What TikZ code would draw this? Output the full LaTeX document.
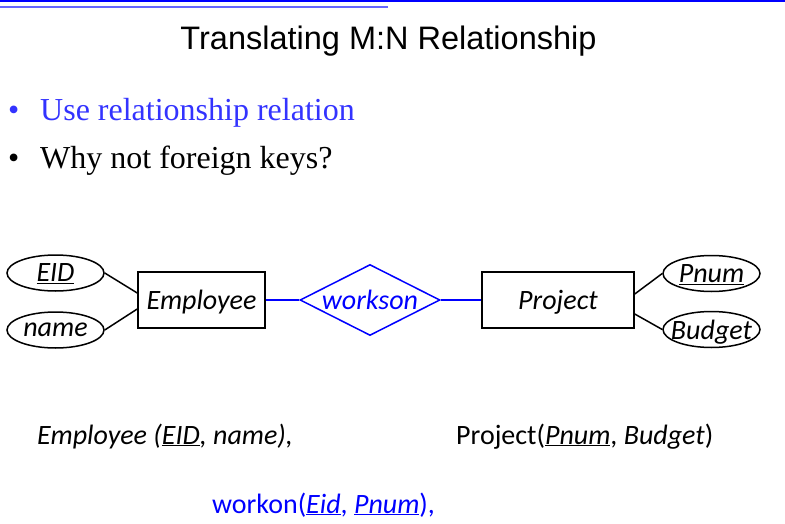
\documentclass[tikz,border=0pt]{standalone}
\usepackage{fontspec}
\setmainfont{Carlito}
\newfontfamily\titlefont{Liberation Sans}
\newfontfamily\bulletfont{Liberation Serif}
\usetikzlibrary{shapes.geometric}
\definecolor{blue}{rgb}{0.0, 0.0, 1.0}
\definecolor{lightblue}{rgb}{0.4, 0.4, 1.0}
\definecolor{bulletblue}{rgb}{0.2, 0.2, 1.0}
\tikzset{
	attr/.style={draw,line width=1.5pt,ellipse,minimum width=97pt,minimum height=36pt,inner sep=0pt,text depth=0pt,font=\fontsize{28}{32}\selectfont\itshape},
	entity/.style={draw,line width=1.5pt,rectangle,minimum height=56pt,inner sep=0pt,text depth=0pt,font=\fontsize{28}{32}\selectfont\itshape},
	relation/.style={draw=blue,line width=1.5pt,diamond,aspect=2,minimum width=140pt,minimum height=71pt,inner sep=0pt,text depth=0pt,text=blue,font=\fontsize{28}{32}\selectfont\itshape},
	schema/.style={anchor=base west,inner sep=0pt,font=\fontsize{28}{32}\selectfont},
	bullet/.style={anchor=base west,inner sep=0pt,font=\bulletfont\fontsize{32}{36}\selectfont}
}

\begin{document}
\begin{tikzpicture}[x=1pt,y=-1pt]
			\useasboundingbox (0,0) rectangle (785,524);
			\draw[blue,line width=1.5pt] (0,1) -- (785,1);
			\draw[lightblue,line width=2pt] (0,7) -- (388,7);
			\node[anchor=base,inner sep=0pt,font=\titlefont\fontsize{32.5}{36}\selectfont] (title) at (388.5,50) {Translating M:N Relationship};
			
			\node[bullet,text=bulletblue] (b1) at (40,121) {Use relationship relation};
			\node[bullet,text=bulletblue] at (8,121) {•};
			\node[bullet] (b2) at (40,169) {Why not foreign keys?};
			\node[bullet] at (8,169) {•};
			
			\node[entity,minimum width=127pt] (emp) at (201.5,300) {Employee};
			\node[entity,minimum width=152pt] (proj) at (558,300) {Project};
			\node[relation] (wo) at (370,300) {workson};
			\node[attr] (eid) at (55.5,273) {\underline{EID}};
			\node[attr] (name) at (55.5,330) {name};
			\node[attr] (pnum) at (711.5,273.5) {\underline{Pnum}};
			\node[attr,inner xsep=-8pt] (budget) at (711.5,329.5) {Budget};
			
			\draw[line width=1.5pt] (eid.east) -- ([yshift=7pt]emp.west);
			\draw[line width=1.5pt] (name.east) -- ([yshift=-9pt]emp.west);
			\draw[line width=1.5pt] (pnum.west) -- ([yshift=6pt]proj.east);
			\draw[line width=1.5pt] (budget.west) -- ([yshift=-14pt]proj.east);
			\draw[blue,line width=1.5pt] (emp.east) -- (wo.west);
			\draw[blue,line width=1.5pt] (wo.east) -- (proj.west);
			
			\node[schema,font=\fontsize{28}{32}\selectfont\itshape] (emprel) at (37,444) {Employee (\underline{EID}, name),};
			\node[schema] (projrel) at (456,444) {Project(\textit{\underline{Pnum}}, \textit{Budget})};
			\node[schema,text=blue] (worel) at (212,513) {workon(\textit{\underline{Eid}}, \textit{\underline{Pnum}}),};
			\end{tikzpicture}
\end{document}
